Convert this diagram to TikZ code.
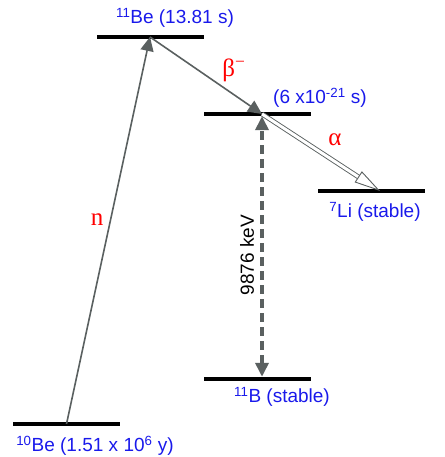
\documentclass[tikz,border=0pt]{standalone}
\usepackage{fontspec}
\setmainfont{Liberation Sans}
\newfontfamily\seriffont{Liberation Serif}
\usepackage{tikz}
\usetikzlibrary{
    arrows.meta,
    positioning,
    calc
}
\definecolor{lblblue}{RGB}{25,25,235}
\definecolor{arrgray}{RGB}{90,96,96}

\begin{document}
\begin{tikzpicture}[
        x=1pt, y=1pt,
        level/.style={fill=black, minimum width=107pt, minimum height=4pt, inner sep=0pt},
        lbl/.style={text=lblblue, font=\fontsize{19}{21}\selectfont, inner sep=0pt},
        decay/.style={text=red, font=\seriffont\fontsize{25}{27}\selectfont, inner sep=0pt},
        arr/.style={draw=arrgray, line width=1.6pt, -{Triangle[length=14pt, width=13pt]}},
        darr/.style={draw=arrgray, line width=3.5pt, dash pattern=on 9pt off 5pt,
                     {Triangle[length=14pt, width=13pt]}-{Triangle[length=14pt, width=13pt]}},
        aarr/.style={draw=arrgray, line width=0.9pt, double=white, double distance=3pt,
                     -{Triangle[open, length=26pt, width=13pt]}},
    ]
        \useasboundingbox (0,0) rectangle (444,457);

        % Levels
        \node[level] (be10) at (66.5, 33) {};
        \node[level] (be11) at (150, 420) {};
        \node[level] (res) at (257.5, 343) {};
        \node[level] (li7) at (371, 266) {};
        \node[level] (b11) at (257.5, 78) {};

        % Level labels
        \node[lbl] (be10lbl) at (95, 11) {\textsuperscript{10}Be (1.51 x 10\textsuperscript{6} y)};
        \node[lbl] (be11lbl) at (175, 439) {\textsuperscript{11}Be (13.81 s)};
        \node[lbl] (reslbl) at (320, 359) {(6 x10\textsuperscript{-21} s)};
        \node[lbl] (li7lbl) at (375, 245) {\textsuperscript{7}Li (stable)};
        \node[lbl] (b11lbl) at (282, 60) {\textsuperscript{11}B (stable)};

        % Arrows
        \draw[arr] (be10.center) -- (be11.center);
        \draw[arr] (be11.center) -- ([xshift=4.5pt]res.center);
        \draw[aarr] ([xshift=4.5pt]res.center) -- ([xshift=9pt]li7.center);
        \draw[darr] ([xshift=4.5pt]b11.north) -- ([xshift=4.5pt]res.south);

        % Decay labels
        \node[decay] (nlbl) at (97, 237) {n};
        \node[decay] (betalbl) at (234, 387) {β\textsuperscript{−}};
        \node[decay] (alphalbl) at (335, 317) {α};
        \node[rotate=90, font=\fontsize{19}{21}\selectfont, inner sep=0pt] (elbl) at (247, 202) {9876 keV};
    \end{tikzpicture}
\end{document}
